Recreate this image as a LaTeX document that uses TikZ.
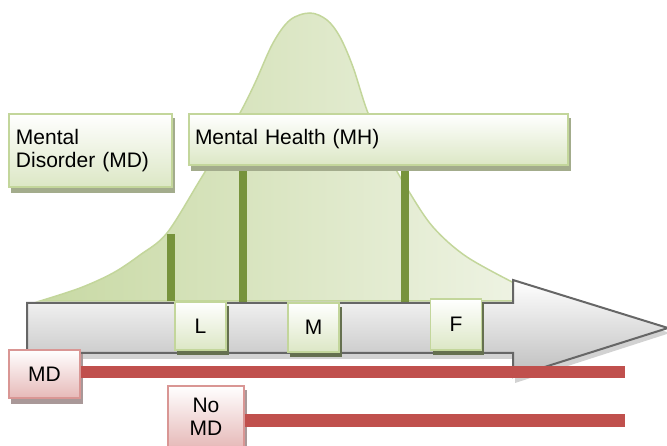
\documentclass[tikz,border=0pt]{standalone}
\usepackage{fontspec}
\setmainfont{Liberation Sans}
\definecolor{gborder}{HTML}{C3D69B}
\definecolor{gfill}{HTML}{DCE7C5}
\definecolor{gshadow}{HTML}{A3AC8C}
\definecolor{gshadowdark}{HTML}{65704F}
\definecolor{bellL}{HTML}{C8D9A4}
\definecolor{bellR}{HTML}{EEF3E3}
\definecolor{bar}{HTML}{77933C}
\definecolor{rborder}{HTML}{D99694}
\definecolor{rfill}{HTML}{E6B9B8}
\definecolor{rshadow}{HTML}{A99898}
\definecolor{rline}{HTML}{C0504D}
\definecolor{arrowline}{HTML}{666666}
\definecolor{arrowfill}{HTML}{BDBDBD}
\definecolor{arrowshadow}{HTML}{D2D2D2}
\tikzset{
  gbox/.style={draw=gborder, line width=1.5pt, top color=white, bottom color=gfill,
    inner sep=0pt, font=\fontsize{21}{23}\selectfont},
  rbox/.style={draw=rborder, line width=1.5pt, top color=white, bottom color=rfill,
    inner sep=0pt, font=\fontsize{21}{23}\selectfont, align=center},
  gsh/.style={fill=gshadow},
  gshd/.style={fill=gshadowdark},
  rsh/.style={fill=rshadow},
  greenbar/.style={draw=bar, line width=8pt},
  redbar/.style={draw=rline, line width=12.5pt},
}
\begin{document}
\begin{tikzpicture}[x=1pt,y=-1pt]
\useasboundingbox (0,0) rectangle (667,446);
\clip (0,0) rectangle (667,446);
% bell curve
\path[draw=gborder, line width=1.5pt, left color=bellL, right color=bellR]
  plot[smooth, tension=0.55] coordinates {(40,301) (80,288) (113,273) (140,255) (167,233)
    (200,180) (220,147) (240,113) (255,83) (273,43) (290,20) (310,13) (327,20) (340,37)
    (353,67) (368,113) (388,155) (408,190) (433,227) (467,257) (520,286)}
  -- (520,301) -- cycle;
% bars
\coordinate (b1t) at (171,234); \coordinate (b1b) at (171,301);
\coordinate (b2t) at (243,160); \coordinate (b2b) at (243,302);
\coordinate (b3t) at (404.5,160); \coordinate (b3b) at (404.5,302);
\draw[greenbar] (b1t) -- (b1b);
\draw[greenbar] (b2t) -- (b2b);
\draw[greenbar] (b3t) -- (b3b);
% top boxes
\begin{scope}[shift={(3,5)}]
  \fill[gsh] (8.25,113.25) rectangle (171.5,187.75);
  \fill[gsh] (188.25,113.25) rectangle (567.5,165.75);
\end{scope}
\node[gbox, minimum width=163pt, minimum height=73pt, text width=149pt, align=left]
  (md) at (90.5,150.5) {Mental\\Disorder (MD)};
\node[gbox, minimum width=379pt, minimum height=51pt, text width=367pt, align=left]
  (mh) at (378.5,139.5) {Mental Health (MH)};
% arrow
\begin{scope}[shift={(2,5)}]
  \fill[arrowshadow]
  (26,302) -- (513,302) -- (513,279) -- (668,328) -- (513,378) -- (513,354) -- (26,354) -- cycle;
\end{scope}
\path[draw=arrowline, line width=2pt, line join=miter, top color=white, bottom color=arrowfill]
  (27,303) -- (513,303) -- (513,280) -- (668,328) -- (513,377) -- (513,353) -- (27,353) -- cycle;
% L M F
\begin{scope}[shift={(3,4.5)}]
  \fill[gshd] (174.25,301.25) rectangle (225.75,350.75);
  \fill[gshd] (287.25,302.25) rectangle (338.75,352.75);
  \fill[gshd] (429.75,298.25) rectangle (481.25,350.75);
\end{scope}
\node[gbox, minimum width=51pt, minimum height=48pt] (l) at (200.5,326) {L};
\node[gbox, minimum width=51pt, minimum height=49pt] (m) at (313.5,327.5) {M};
\node[gbox, minimum width=51pt, minimum height=51pt] (f) at (456,324.5) {F};
% red lines and boxes
\coordinate (e1) at (625,372);
\coordinate (e2) at (625,420.5);
\begin{scope}[shift={(3,5)}]
  \fill[rsh] (8.25,349.25) rectangle (79.5,398.75);
  \fill[rsh] (167.25,385.25) rectangle (243.5,448.75);
\end{scope}
\node[rbox, minimum width=71pt, minimum height=48pt] (mdr) at (44.5,374) {MD};
\node[rbox, minimum width=76pt, minimum height=62pt] (nomd) at (206,417) {No\\MD};
\draw[redbar] (mdr.east |- e1) -- (e1);
\draw[redbar] (nomd.east |- e2) -- (e2);
\end{tikzpicture}
\end{document}
